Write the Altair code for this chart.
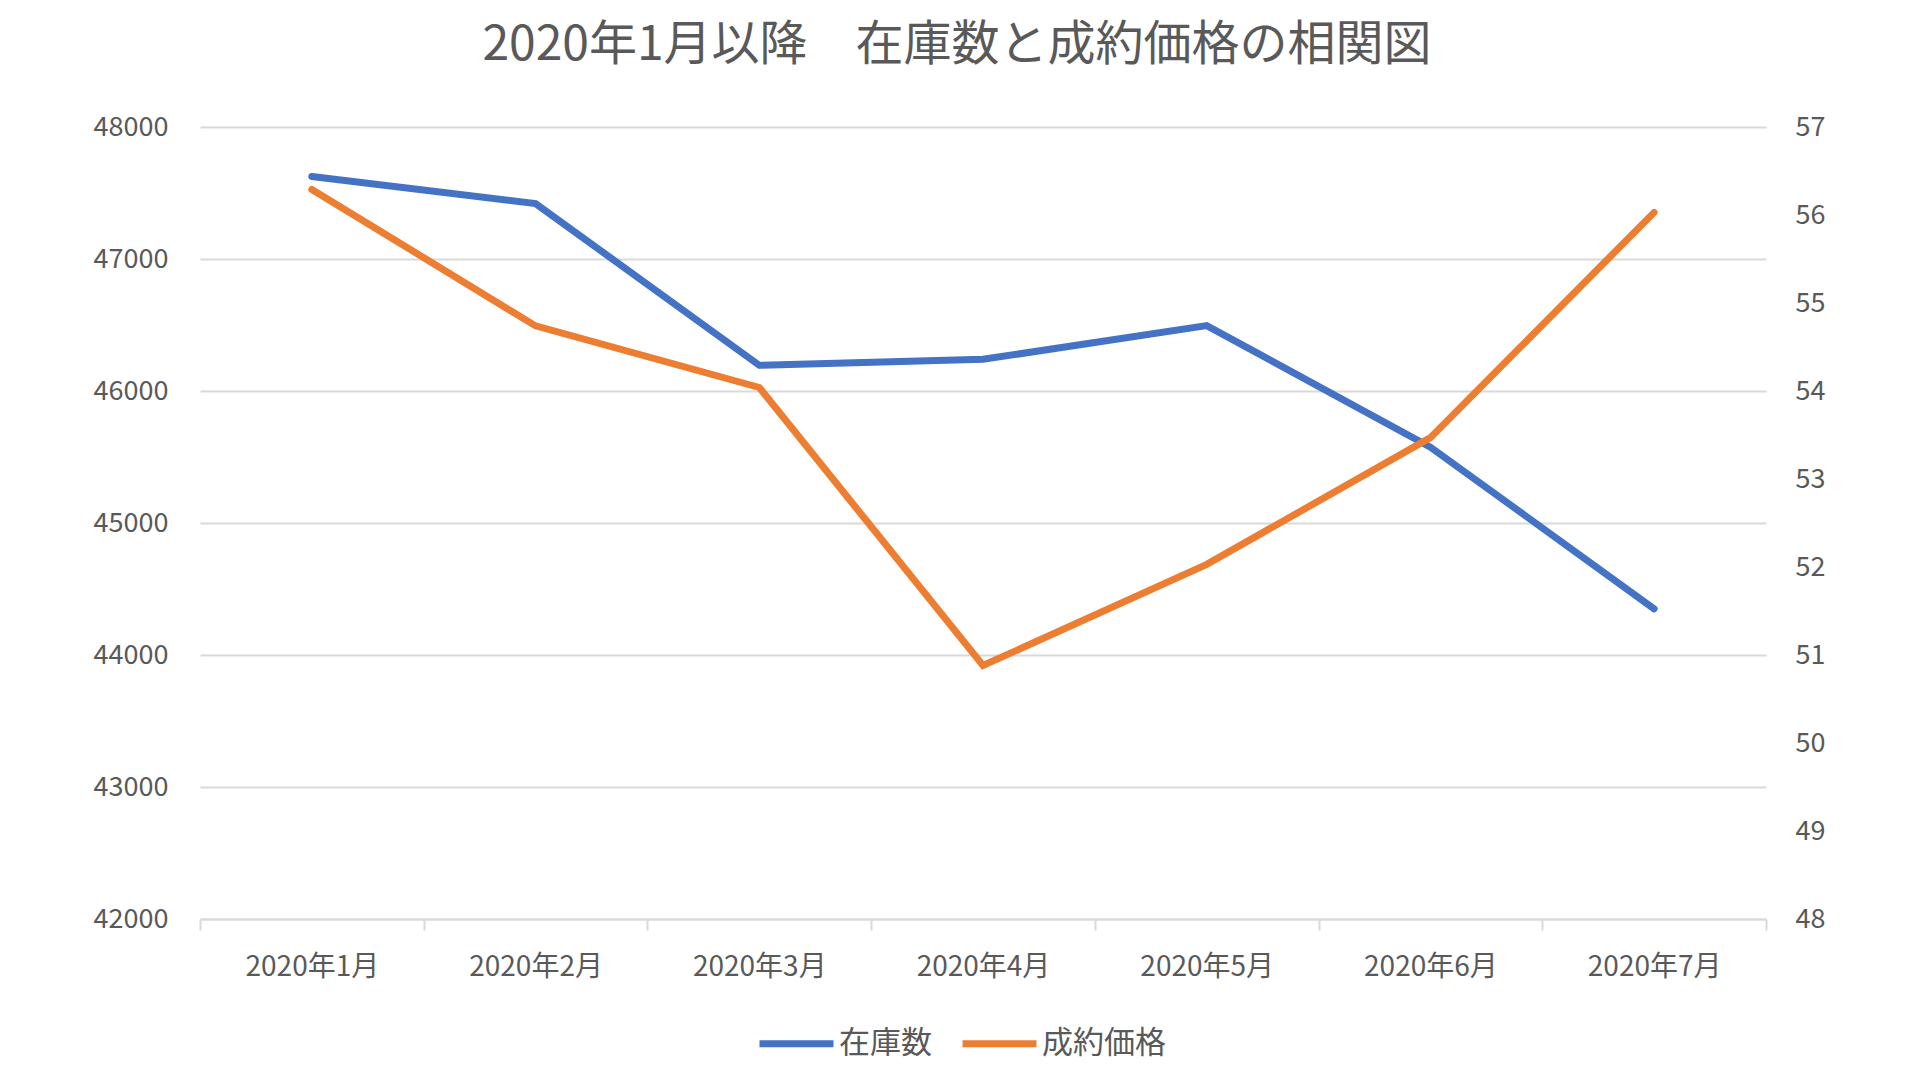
import altair as alt
import pandas as pd

months = ["2020年1月", "2020年2月", "2020年3月", "2020年4月", "2020年5月", "2020年6月", "2020年7月"]
stock = [47625, 47420, 46195, 46240, 46495, 45575, 44350]
price = [56.29, 54.74, 54.04, 50.88, 52.03, 53.47, 56.03]
series_names = ["在庫数", "成約価格"]
left_ticks = [42000, 43000, 44000, 45000, 46000, 47000, 48000]
right_ticks = [48, 49, 50, 51, 52, 53, 54, 55, 56, 57]

df = pd.DataFrame({
    "month": months * 2,
    "value": stock + price,
    "series": [series_names[0]] * len(months) + [series_names[1]] * len(months),
})

FONT = "Noto Sans CJK JP"
TXT = "#595959"
GRID = "#D9D9D9"
colors = ["#4472C4", "#ED7D31"]

color_enc = alt.Color(
    "series:N",
    scale=alt.Scale(domain=series_names, range=colors),
    sort=series_names,
    legend=alt.Legend(
        title=None, orient="none", direction="horizontal",
        legendX=556, legendY=876,
        symbolType="stroke", symbolStrokeWidth=7, symbolSize=5476,
        labelFontSize=31, labelFont=FONT, labelColor=TXT, labelOffset=2,
        columnPadding=16,
    ),
)

xenc = alt.X(
    "month:N", sort=months, title=None, bandPosition=0.5,
    scale=alt.Scale(type="band", paddingInner=0, paddingOuter=0),
    axis=alt.Axis(
        labelAngle=0, labelFontSize=28, labelFont=FONT, labelColor=TXT,
        domainColor=GRID, domainWidth=2, tickColor=GRID, tickWidth=2, tickSize=11,
        tickBand="extent", labelPadding=23, grid=False,
    ),
)

left = alt.Chart(df).transform_filter(
    alt.datum.series == series_names[0]
).mark_line(strokeWidth=7, strokeCap="round", strokeJoin="miter").encode(
    x=xenc,
    y=alt.Y(
        "value:Q", title=None,
        scale=alt.Scale(domain=[42000, 48000], nice=False, zero=False),
        axis=alt.Axis(
            values=left_ticks, format="d", orient="left", domain=False, ticks=False,
            grid=True, gridColor=GRID, gridWidth=2,
            labelFontSize=27, labelFont=FONT, labelColor=TXT, labelPadding=32,
        ),
    ),
    color=color_enc,
)

right = alt.Chart(df).transform_filter(
    alt.datum.series == series_names[1]
).mark_line(strokeWidth=7, strokeCap="round", strokeJoin="miter").encode(
    x=xenc,
    y=alt.Y(
        "value:Q", title=None,
        scale=alt.Scale(domain=[48, 57], nice=False, zero=False),
        axis=alt.Axis(
            values=right_ticks, format="d", orient="right", domain=False, ticks=False,
            grid=False,
            labelFontSize=27, labelFont=FONT, labelColor=TXT, labelPadding=29,
        ),
    ),
    color=color_enc,
)

chart = alt.layer(left, right).resolve_scale(y="independent").properties(
    width=1566,
    height=792,
    autosize=alt.AutoSizeParams(type="none"),
    padding={"left": 192, "top": 119, "right": 146, "bottom": 150},
    title=alt.TitleParams(
        text="2020年1月以降　在庫数と成約価格の相関図",
        fontSize=48, font=FONT, color=TXT, fontWeight="normal",
        anchor="middle", dx=-26, offset=43,
    ),
).configure_view(stroke=None)

chart.save("out.html", embed_options={"renderer": "svg", "actions": False})
